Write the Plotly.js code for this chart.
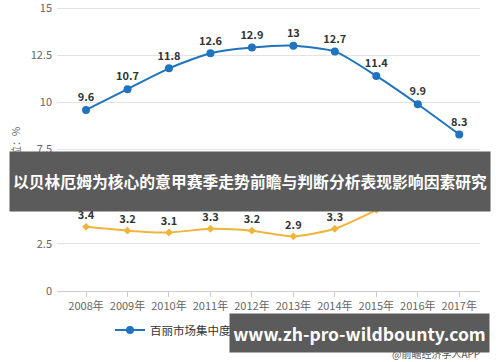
<!DOCTYPE html>
<html><head><meta charset="utf-8">
<script src="https://cdn.plot.ly/plotly-3.0.1.min.js"></script>
<style>html,body{margin:0;padding:0;background:#fff}#chart{width:500px;height:362px}</style>
</head><body><div id="chart"></div>
<script>
const years = ["2008年","2009年","2010年","2011年","2012年","2013年","2014年","2015年","2016年","2017年"];
const belleShare = [9.6,10.7,11.8,12.6,12.9,13,12.7,11.4,9.9,8.3];
const nikeShare = [3.4,3.2,3.1,3.3,3.2,2.9,3.3,4.3,5.6,6.1];
const belleName = "百丽市场集中度（%）";
const nikeName = "耐克市场集中度（%）";
const bandText = "以贝林厄姆为核心的意甲赛季走势前瞻与判断分析表现影响因素研究";
const siteText = "www.zh-pro-wildbounty.com";
const sourceText = "@前瞻经济学人APP";

const F = "'Noto Sans CJK SC','Noto Sans',sans-serif";
const L=57, R=20, T=2, B=71, W=500-L-R, H=362-T-B;
const px = x => (x-L)/W, py = y => (362-B-y)/H;
const yTop = 15 * H / 283;

const data = [
 {x: years, y: belleShare, name: belleName, type:'scatter', mode:'lines+markers+text',
  line:{color:'#1f74bd', width:2, shape:'spline', smoothing:0.6},
  marker:{color:'#1f74bd', size:8},
  text: belleShare.map(String), textposition:'top center',
  textfont:{family:F, size:11, color:'#333', weight:'bold'}, cliponaxis:false},
 {x: years, y: nikeShare, name: nikeName, type:'scatter', mode:'lines+markers+text',
  line:{color:'#f0b43a', width:2, shape:'spline', smoothing:0.6},
  marker:{color:'#f0b43a', size:6, symbol:'diamond'},
  text: nikeShare.map(String), textposition:'top center',
  textfont:{family:F, size:11, color:'#333', weight:'bold'}, cliponaxis:false}
];

const layout = {
 width:500, height:362, margin:{l:L, r:R, t:T, b:B},
 paper_bgcolor:'#fff', plot_bgcolor:'#fff',
 font:{family:F, size:11, color:'#666'},
 showlegend:true,
 legend:{orientation:'h', x:px(110), xanchor:'left', y:py(330), yanchor:'middle', itemwidth:30,
   font:{family:F, size:11.5, color:'#333'}, bgcolor:'rgba(0,0,0,0)'},
 xaxis:{type:'category', range:[-0.7,9.5], showgrid:false, showline:true, linecolor:'#ccc',
   ticks:'outside', ticklen:5, tickcolor:'#ccc', tickfont:{family:F, size:11, color:'#666'}, fixedrange:true},
 yaxis:{range:[0,yTop], tickmode:'linear', tick0:0, dtick:2.5, gridcolor:'#e3e3e3', zeroline:false,
   showline:false, tickfont:{family:F, size:11, color:'#666'}, ticklabelstandoff:4, ticklabeloverflow:'allow',
   title:{text:'单位：%', font:{family:F, size:10, color:'#666'}, standoff:8}},
 annotations:[
  {xref:'paper', yref:'paper', x:px(482), y:py(353), xanchor:'right', yanchor:'middle',
   text:sourceText, showarrow:false, font:{family:F, size:10, color:'#555'}},
  {xref:'paper', yref:'paper', x:px(250), y:py(181.5), xanchor:'center', yanchor:'middle',
   text:bandText, showarrow:false, bgcolor:'#5b5b5b', width:480, height:59, borderpad:0,
   font:{family:F, size:15.8, color:'#fff', weight:'bold'}},
  {xref:'paper', yref:'paper', x:px(359.5), y:py(333), xanchor:'center', yanchor:'middle',
   text:siteText, showarrow:false, bgcolor:'#5b5b5b', width:259, height:38, borderpad:0,
   font:{family:F, size:17.5, color:'#fff', weight:'bold'}}
 ]
};
Plotly.newPlot('chart', data, layout, {displayModeBar:false, staticPlot:true});
</script></body></html>
